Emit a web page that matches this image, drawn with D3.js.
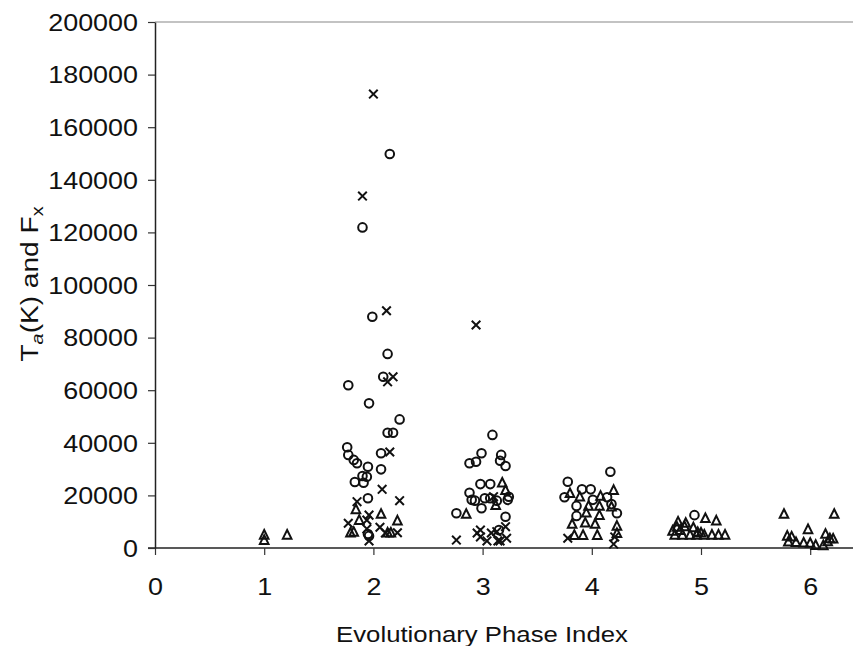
<!DOCTYPE html>
<html>
<head>
<meta charset="utf-8">
<script src="https://cdn.jsdelivr.net/npm/d3@7"></script>
<style>
  body { margin: 0; background: #fff; }
  svg { display: block; font-family: "Liberation Sans", Arial, sans-serif; }
</style>
</head>
<body>
<div id="chart"></div>
<script>
// [phase index, value]
var circles = [
  [2.15,149800],[1.90,121900],[1.99,87900],[2.13,73800],[2.09,65100],[1.77,61900],
  [1.96,55000],[2.24,48900],[2.13,43800],[2.18,43800],[1.76,38300],[1.77,35400],
  [2.07,36000],[1.82,33500],[1.85,32200],[1.95,30900],[2.07,29900],[1.90,27400],
  [1.94,27100],[1.83,25100],[1.91,24800],[1.95,18900],[1.95,5300],[1.96,4600],
  [3.09,43000],[2.99,36000],[2.88,32200],[2.94,32800],[3.17,35400],[3.16,33200],
  [3.21,31200],[2.98,24300],[3.07,24300],[2.88,21000],[2.90,18300],[2.93,18000],
  [3.02,18900],[3.07,18900],[3.13,18000],[3.23,18300],[3.24,19500],[2.99,15100],
  [2.76,13200],[3.21,11900],[3.15,6800],
  [4.17,29000],[3.78,25200],[3.91,22300],[3.99,22300],[3.75,19300],[4.01,18300],
  [4.14,19300],[3.86,16000],[4.18,16700],[3.86,12200],[4.23,13200],
  [4.94,12500]
];
var crosses = [
  [2.00,172600],[1.90,133800],[2.12,90200],[2.18,65100],[2.13,63200],[2.15,36500],
  [2.08,22300],[2.24,18000],[1.85,17600],[1.96,12500],[1.77,9400],[1.94,10600],
  [2.06,7900],[1.94,7300],[2.22,5800],[2.11,5700],[1.96,2700],
  [2.94,84800],[3.10,19500],[2.98,6800],[2.76,3000],[3.21,8100],[2.95,5700],
  [2.98,4200],[3.08,5700],[3.04,2700],[3.14,2700],[3.13,6200],[3.22,3700],[3.16,2700],
  [3.78,3700],[4.21,4200],[4.20,1500]
];
var triangles = [
  [1.00,5000],[1.00,3000],[1.21,5000],
  [1.84,14700],[2.07,12900],[2.22,10400],[1.87,10600],[1.82,6100],[2.13,5800],
  [1.79,5800],[2.16,5800],
  [3.18,24800],[3.21,22000],[3.12,16300],[2.85,12900],
  [4.20,22000],[3.80,20800],[3.89,19500],[4.08,19800],[3.97,16000],[4.07,16000],
  [3.95,13400],[4.07,12500],[4.18,15700],[3.82,9100],[3.94,9600],[4.03,9100],
  [4.23,8400],[3.84,4900],[3.92,4900],[4.05,4900],[4.23,5600],
  [5.04,11300],[5.14,10400],[4.79,10000],[4.86,9500],[4.78,8000],[4.85,8200],
  [4.93,7800],[4.74,6500],[4.81,6800],[4.97,6000],[5.00,5800],[4.76,5000],
  [4.83,5000],[4.90,5000],[4.96,5000],[5.03,5000],[5.10,5000],[5.16,5000],[5.22,5000],
  [5.76,12900],[6.22,12900],[5.98,7100],[5.79,4600],[5.83,4300],[5.87,2200],
  [5.94,2000],[6.00,1900],[6.05,1100],[6.12,1000],[6.14,5300],[6.18,3600],
  [6.21,3500],[6.16,2500],[5.80,2400]
];
var xTicks = [0, 1, 2, 3, 4, 5, 6];
var yTicks = [0, 20000, 40000, 60000, 80000, 100000, 120000, 140000, 160000, 180000, 200000];

var W = 853, H = 646;
var plotLeft = 155, plotTop = 22, plotBottom = 548;
var stretch = 1.17; // the original lettering is a bit wide

var svg = d3.select("#chart").append("svg")
  .attr("width", W).attr("height", H);

var x = d3.scaleLinear().domain([0, 6.5]).range([plotLeft, plotLeft + 6.5 * 109.2]);
var y = d3.scaleLinear().domain([0, 200000]).range([plotBottom, plotTop]);

// top frame line
svg.append("line")
  .attr("x1", plotLeft).attr("x2", W)
  .attr("y1", y(200000)).attr("y2", y(200000))
  .attr("stroke", "#888").attr("stroke-width", 1.2);

var xAxis = svg.append("g")
  .attr("transform", "translate(0," + plotBottom + ")")
  .call(d3.axisBottom(x).tickValues(xTicks).tickFormat(d3.format("d"))
    .tickSize(7).tickSizeOuter(0).tickPadding(0));
xAxis.select(".domain").attr("d", "M" + (plotLeft - 7) + ",0H" + W)
  .attr("stroke", "#222").attr("stroke-width", 1.5);
xAxis.selectAll(".tick line").attr("stroke", "#333").attr("stroke-width", 1.2);
xAxis.selectAll(".tick text")
  .attr("y", 0).attr("dy", 0)
  .attr("transform", "translate(0,47) scale(" + stretch + ",1)")
  .style("font-size", "23px").attr("fill", "#111");

var yAxis = svg.append("g")
  .attr("transform", "translate(" + plotLeft + ",0)")
  .call(d3.axisLeft(y).tickValues(yTicks).tickFormat(d3.format("d"))
    .tickSize(7).tickSizeOuter(0).tickPadding(0));
yAxis.select(".domain").attr("stroke", "#222").attr("stroke-width", 1.5);
yAxis.selectAll(".tick line").attr("stroke", "#333").attr("stroke-width", 1.2);
yAxis.selectAll(".tick text")
  .attr("x", -17 / stretch).attr("dy", "0.36em")
  .attr("transform", "scale(" + stretch + ",1)")
  .style("font-size", "23px").attr("fill", "#111");

// axis titles
svg.append("text")
  .attr("transform", "translate(482,642) scale(" + stretch + ",1)")
  .attr("text-anchor", "middle")
  .style("font-size", "22px").attr("fill", "#111")
  .text("Evolutionary Phase Index");

var yl = svg.append("text")
  .attr("transform", "translate(38,284) rotate(-90) scale(" + stretch + ",1)")
  .attr("text-anchor", "middle")
  .style("font-size", "24px").attr("fill", "#111");
yl.append("tspan").text("T");
yl.append("tspan").attr("dy", 5).style("font-size", "17px").style("font-style", "italic").text("a");
yl.append("tspan").attr("dy", -5).text("(K) and F");
yl.append("tspan").attr("dy", 5).style("font-size", "17px").text("x");

var marks = svg.append("g")
  .attr("fill", "none").attr("stroke", "#111").attr("stroke-width", 2);

marks.selectAll("circle.o").data(circles).enter().append("circle")
  .attr("cx", function (d) { return x(d[0]); })
  .attr("cy", function (d) { return y(d[1]); })
  .attr("r", 4.3);

marks.selectAll("path.x").data(crosses).enter().append("path")
  .attr("d", function (d) {
    var cx = x(d[0]), cy = y(d[1]), s = 4.3;
    return "M" + (cx - s) + "," + (cy - s) + "L" + (cx + s) + "," + (cy + s) +
      "M" + (cx - s) + "," + (cy + s) + "L" + (cx + s) + "," + (cy - s);
  });

marks.selectAll("path.t").data(triangles).enter().append("path")
  .attr("stroke-linejoin", "miter")
  .attr("d", function (d) {
    var cx = x(d[0]), cy = y(d[1]);
    return "M" + cx + "," + (cy - 4.8) + "L" + (cx + 4.3) + "," + (cy + 3.8) +
      "L" + (cx - 4.3) + "," + (cy + 3.8) + "Z";
  });
</script>
</body>
</html>
